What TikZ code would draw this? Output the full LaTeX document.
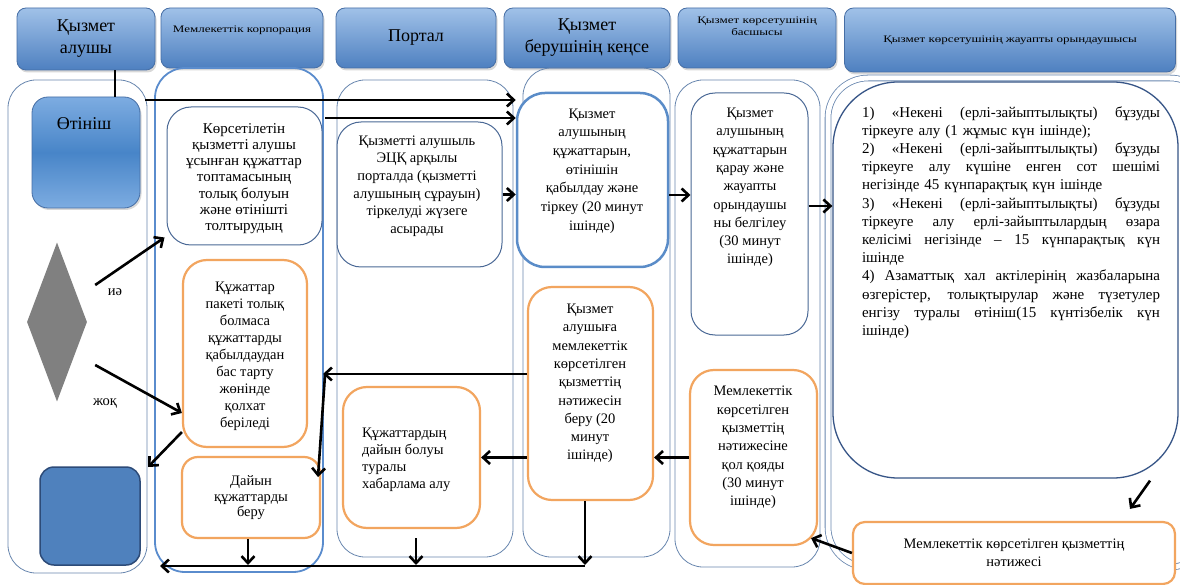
\documentclass[tikz,border=0pt]{standalone}
\usepackage{fontspec}
\usepackage{graphicx}
\setmainfont{Liberation Serif}
\usetikzlibrary{arrows.meta,shapes.geometric,shadows}
\definecolor{hdrtop}{RGB}{160,193,232}
\definecolor{hdrbot}{RGB}{78,128,192}
\definecolor{hdredge}{RGB}{70,110,165}
\definecolor{laneclr}{RGB}{105,135,175}
\definecolor{lanetwo}{RGB}{90,140,205}
\definecolor{boxblue}{RGB}{75,105,150}
\definecolor{boxbluetwo}{RGB}{90,140,200}
\definecolor{bigtop}{RGB}{55,85,135}
\definecolor{orng}{RGB}{242,165,95}
\definecolor{otintop}{RGB}{125,172,225}
\definecolor{otinmid}{RGB}{72,133,200}
\definecolor{sqfill}{RGB}{79,129,189}
\definecolor{sqedge}{RGB}{45,75,120}
\definecolor{diagray}{RGB}{128,128,128}
\newcommand\bxf{\fontsize{14.5}{18.3}\selectfont}
\newcommand\hbig{\fontsize{18}{22}\selectfont}
\newcommand\hsml{\fontsize{10}{12}\selectfont}
\newcommand\jl[1]{\leavevmode\hbox to 298pt{\spaceskip=0.28em plus 1fil\relax #1}}
\newcommand\wide[1]{\scalebox{1.3}[1]{\begin{tabular}{@{}c@{}}#1\end{tabular}}}
\begin{document}
\begin{tikzpicture}[x=1pt,y=-1pt,
  hdr/.style={rectangle, rounded corners=9pt, top color=hdrtop, bottom color=hdrbot, draw=hdredge, line width=0.8pt,
    drop shadow={opacity=0.3,shadow xshift=1.5pt,shadow yshift=-2.5pt}, inner sep=0pt, align=center},
  lane/.style={draw=laneclr, line width=0.8pt, rounded corners=28pt},
  bbox/.style={rectangle, draw=boxblue, line width=1pt, rounded corners=24pt, fill=white, inner sep=0pt},
  obox/.style={rectangle, draw=orng, line width=2.2pt, rounded corners=24pt, fill=white, inner sep=0pt},
  txt/.style={align=center, inner sep=0pt, font=\bxf},
  arr/.style={-{Straight Barb[length=7pt,width=13pt]}, line width=2.6pt},
  ln/.style={line width=2.6pt}
]
\useasboundingbox (0,0) rectangle (1180,585);
\fill[white] (0,0) rectangle (1180,585);

% headers
\node[hdr, minimum width=138pt, minimum height=62pt, font=\hbig] (h1) at (86,39) {Қызмет\\алушы};
\node[hdr, minimum width=162pt, minimum height=60pt, font=\hsml] (h2) at (242,38) {\raisebox{5pt}[0pt][0pt]{\wide{Мемлекеттік корпорация}}};
\node[hdr, minimum width=160pt, minimum height=60pt, font=\hbig] (h3) at (416,38) {Портал};
\node[hdr, minimum width=166pt, minimum height=60pt, font=\hbig] (h4) at (587,38) {Қызмет\\берушінің кеңсе};
\node[hdr, minimum width=158pt, minimum height=60pt, font=\hsml] (h5) at (757,38) {\raisebox{8pt}[0pt][0pt]{\wide{Қызмет көрсетушінің\\басшысы}}};
\node[hdr, minimum width=331pt, minimum height=64pt, font=\hsml] (h6) at (1010,40) {\wide{Қызмет көрсетушінің жауапты орындаушысы}};

% lanes
\draw[lane] (8,80) rectangle (147,573);
\draw[lane, draw=lanetwo, line width=1.8pt, rounded corners=30pt] (155,68) rectangle (323,572);
\draw[lane] (337,80) rectangle (513,557);
\draw[lane] (523,68) rectangle (670,557);
\draw[lane] (675,80) rectangle (820,567);
\draw[lane, double=white, double distance=5pt, rounded corners=40pt] (828,78) rectangle (1210,567);
\node[rectangle, draw=bigtop, line width=1.3pt, rounded corners=65pt, minimum width=345pt, minimum height=396pt, fill=white] (big) at (1005.5,280) {};

% lane 1
\node[rectangle, rounded corners=16pt, top color=otintop, bottom color=otintop, middle color=otinmid, draw=hdredge, line width=0.8pt,
  minimum width=108pt, minimum height=111pt, drop shadow={opacity=0.3,shadow xshift=1.5pt,shadow yshift=-2pt}] (otin) at (86,152.5) {};
\node[font=\fontsize{18}{20}\selectfont, inner sep=0pt] (otxt) at (84,124) {Өтініш};
\node[diamond, fill=diagray, minimum width=60pt, minimum height=159pt, inner sep=0pt] (dia) at (57,322) {};
\node[rectangle, rounded corners=14pt, fill=sqfill, draw=sqedge, line width=1.5pt, minimum width=100pt, minimum height=98pt] (sq) at (90,516) {};
\node[font=\bxf, inner sep=0pt] (yes) at (115,292) {иә};
\node[font=\bxf, inner sep=0pt] (no) at (105,403) {жоқ};

% lane 2
\node[bbox, minimum width=155pt, minimum height=138pt] (b21) at (244.5,176) {};
\node[txt, font=\fontsize{15}{16.2}\selectfont] (t21) at (244,178.5) {Көрсетілетін\\қызметті алушы\\ұсынған құжаттар\\топтамасының\\толық болуын\\және өтінішті\\толтырудың};
\node[obox, minimum width=124pt, minimum height=187pt] (b22) at (245,353.5) {};
\node[txt, font=\fontsize{14.5}{17}\selectfont] (t22) at (245,356) {Құжаттар\\пакеті толық\\болмаса\\құжаттарды\\қабылдаудан\\бас тарту\\жөнінде\\қолхат\\беріледі};
\node[obox, rounded corners=16pt, minimum width=138pt, minimum height=81pt] (b23) at (251,497.5) {};
\node[txt, font=\fontsize{14.5}{15.5}\selectfont] (t23) at (251,498) {Дайын\\құжаттарды\\беру};

% lane 3
\node[bbox, minimum width=165pt, minimum height=145pt] (b31) at (419.5,194.5) {};
\node[txt, font=\fontsize{14.5}{17.7}\selectfont] (t31) at (417,186) {Қызметті алушыль\\ЭЦҚ арқылы\\порталда (қызметті\\алушының сұрауын)\\тіркелуді жүзеге\\асырады};
\node[obox, minimum width=137pt, minimum height=141pt] (b32) at (411.5,457.5) {};
\node[txt, align=left, anchor=west, font=\fontsize{14.5}{17}\selectfont] (t32) at (362,460) {Құжаттардың\\дайын болуы\\туралы\\хабарлама алу};

% lane 4
\node[bbox, draw=boxbluetwo, line width=2.5pt, rounded corners=28pt, minimum width=151pt, minimum height=174pt] (b41) at (592.5,180) {};
\node[txt, font=\fontsize{14.5}{18.7}\selectfont] (t41) at (592,171) {Қызмет\\алушының\\құжаттарын,\\өтінішін\\қабылдау және\\тіркеу (20 минут\\ішінде)};
\node[obox, minimum width=125pt, minimum height=213pt] (b42) at (590.5,393.5) {};
\node[txt] (t42) at (590,383.5) {Қызмет\\алушыға\\мемлекеттік\\көрсетілген\\қызметтің\\нәтижесін\\беру (20\\минут\\ішінде)};

% lane 5
\node[bbox, minimum width=117pt, minimum height=242pt] (b51) at (749.5,214) {};
\node[txt] (t51) at (750,187.5) {Қызмет\\алушының\\құжаттарын\\қарау және\\жауапты\\орындаушы\\ны белгілеу\\(30 минут\\ішінде)};
\node[obox, minimum width=127pt, minimum height=175pt] (b52) at (753.5,457.5) {};
\node[txt] (t52) at (753,447.5) {Мемлекеттік\\көрсетілген\\қызметтің\\нәтижесіне\\қол қояды\\(30 минут\\ішінде)};

% lane 6
\node[align=left, text width=298pt, inner sep=0pt, font=\fontsize{15}{18.2}\selectfont] (t6) at (1011,222.5) {%
\jl{1) «Некені (ерлі-зайыптылықты) бұзуды}\\
тіркеуге алу (1 жұмыс күн ішінде);\\
\jl{2) «Некені (ерлі-зайыптылықты) бұзуды}\\
\jl{тіркеуге алу күшіне енген сот шешімі}\\
негізінде 45 күнпарақтық күн ішінде\\
\jl{3) «Некені (ерлі-зайыптылықты) бұзуды}\\
\jl{тіркеуге алу ерлі-зайыптылардың өзара}\\
\jl{келісімі негізінде – 15 күнпарақтық күн}\\
ішінде\\
\jl{4) Азаматтық хал актілерінің жазбаларына}\\
\jl{өзгерістер, толықтырулар және түзетулер}\\
\jl{енгізу туралы өтініш(15 күнтізбелік күн}\\
ішінде)};
\node[obox, rounded corners=12pt, minimum width=322pt, minimum height=62pt, align=center, font=\bxf] (res) at (1014,553) {Мемлекеттік көрсетілген қызметтің\\нәтижесі};

% connectors
\coordinate (c1) at (145,100);
\coordinate (c2) at (325,118);
\coordinate (c3) at (323,374);
\coordinate (c3b) at (325,375);
\coordinate (c4) at (318,477);
\coordinate (l1e) at (148,467);
\coordinate (bl) at (585,566);
\coordinate (ble) at (160,566);

\draw[ln] ([xshift=29pt]h1.south) -- ([xshift=29pt]otin.north);
\draw[arr] (c1) -- (c1 -| b41.west);
\draw[arr] (c2) -- (c2 -| b41.west);
\draw[arr] (b31.east) -- (b31.east -| b41.west);
\draw[arr] ([yshift=-15pt]b41.east) -- ([yshift=-15pt]b41.east -| b51.west);
\draw[arr] ([yshift=8pt]b51.east) -- ([yshift=8pt]b51.east -| big.west);
\draw[arr] ([xshift=8pt,yshift=37pt]dia.east) -- ([xshift=-2pt,yshift=8pt]b21.south west);
\draw[arr] ([xshift=8pt,yshift=-43pt]dia.east) -- ([yshift=-59.5pt]b22.west);
\draw[arr] ([yshift=-78.5pt]b22.west) -- (l1e);
\draw[arr] ([yshift=19.5pt]b42.west) -- (c3);
\draw[arr] (c3b) -- (c4);
\draw[arr] (b42.west |- b32.east) -- (b32.east);
\draw[arr] (b52.west) -- (b52.west -| b42.east);
\draw[arr] (res.west) -- ([xshift=-7pt,yshift=8pt]b52.south east);
\draw[arr] ([xshift=144.5pt,yshift=-2pt]big.south) -- ([xshift=116pt,yshift=12pt]res.north);
\draw[arr] ([xshift=-5.5pt]b42.south) -- ([yshift=1pt]bl);
\draw[arr] ([xshift=4.5pt,yshift=-9pt]b32.south) -- ([xshift=4.5pt,yshift=1pt]b32.south |- bl);
\draw[arr] ([xshift=-3pt]b23.south) -- ([xshift=-3pt,yshift=1pt]b23.south |- bl);
\draw[arr] (bl) -- (ble);
\end{tikzpicture}
\end{document}
